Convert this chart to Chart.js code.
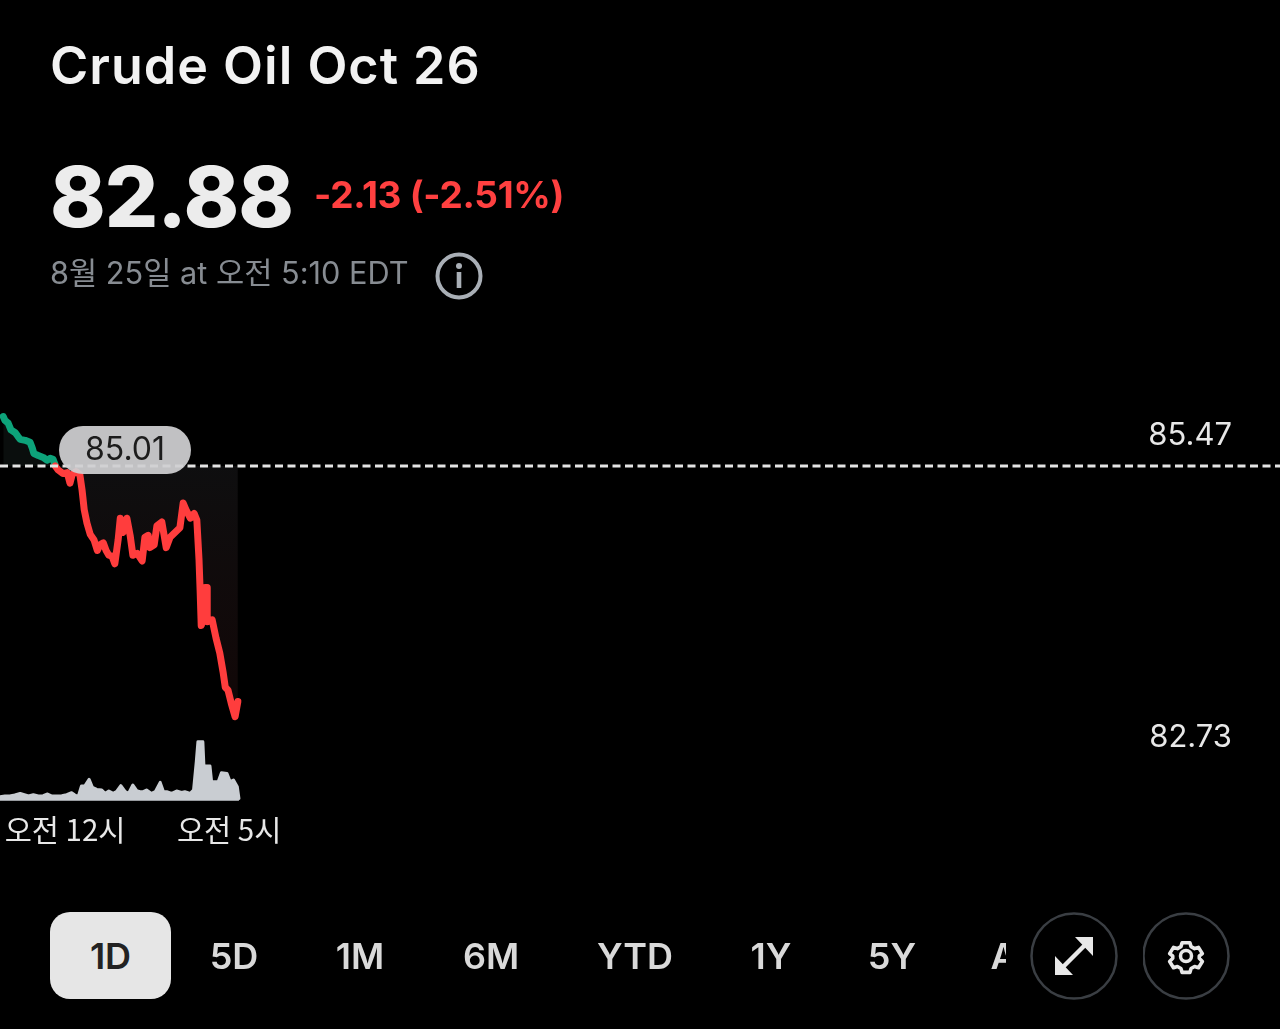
<!DOCTYPE html>
<html lang="ko">
<head>
<meta charset="utf-8">
<title>Crude Oil Oct 26</title>
<script src="https://cdn.jsdelivr.net/npm/chart.js@4"></script>
<style>
html,body{margin:0;padding:0;background:#000;width:1280px;height:1029px;overflow:hidden;font-family:Inter,"Noto Sans CJK KR",sans-serif}
#wrap{position:absolute;left:0;top:0;width:1280px;height:1029px}
.t{position:absolute;white-space:nowrap;line-height:1}
#title{left:50px;top:40px;font-size:52px;font-weight:600;color:#f2f2f2;letter-spacing:1px}
#price{left:50px;top:155px;font-size:84px;font-weight:800;color:#ececec;letter-spacing:-1px}
#chg{left:314px;top:176px;font-size:37px;font-weight:700;color:#ff4040;letter-spacing:-.3px}
#date{left:50px;top:258px;font-size:30.7px;color:#878c92}
#pill{position:absolute;left:59px;top:426px;width:132px;height:48px;border-radius:24px;background:rgba(208,208,210,.93);color:#1c1c1c;font-size:32px;display:flex;align-items:center;justify-content:center;padding-bottom:4px;box-sizing:border-box}
#tabs{position:absolute;left:0;top:912px;width:1006px;height:87px;overflow:hidden}
.tab{position:absolute;top:0;height:87px;display:flex;align-items:center;justify-content:center;transform:translateX(-50%);font-size:36px;font-weight:600;color:#d9d9d9}
#on{position:absolute;left:50px;top:0;width:121px;height:87px;border-radius:20px;background:#e6e6e6;color:#222;display:flex;align-items:center;justify-content:center;font-size:36px;font-weight:600}
svg.i{position:absolute}
</style>
</head>
<body>
<div id="wrap"><canvas id="c" width="1280" height="1029"></canvas></div>
<div class="t" id="title">Crude Oil Oct 26</div>
<div class="t" id="price">82.88</div>
<div class="t" id="chg">-2.13 (-2.51%)</div>
<div class="t" id="date">8월 25일 at 오전 5:10 EDT</div>
<svg class="i" style="left:434px;top:251px" width="50" height="50" viewBox="0 0 50 50"><circle cx="25" cy="25" r="21.5" fill="none" stroke="#a9afb6" stroke-width="4"/><circle cx="25" cy="15" r="3" fill="#a9afb6"/><rect x="22.7" y="21" width="4.6" height="16" fill="#a9afb6"/></svg>
<div id="pill">85.01</div>
<div id="tabs">
  <div id="on">1D</div>
  <div class="tab" style="left:234px">5D</div>
  <div class="tab" style="left:360px">1M</div>
  <div class="tab" style="left:491px">6M</div>
  <div class="tab" style="left:635px">YTD</div>
  <div class="tab" style="left:771px">1Y</div>
  <div class="tab" style="left:892px">5Y</div>
  <div class="tab" style="left:1024px">ALL</div>
</div>
<svg class="i" style="left:1030px;top:912px" width="88" height="88" viewBox="0 0 88 88"><circle cx="44" cy="44" r="42.5" fill="none" stroke="#3a3e43" stroke-width="2.5"/><path d="M29 59 L59 29" stroke="#e8e8e8" stroke-width="4.5"/><path d="M63 25 V44 L45 25Z M25 63 V44 L43 63Z" fill="#e8e8e8"/></svg>
<svg class="i" style="left:1143px;top:912px" width="88" height="88" viewBox="0 0 88 88"><circle cx="43" cy="44" r="42.5" fill="none" stroke="#3a3e43" stroke-width="2.5"/><circle cx="43" cy="44" r="5.5" fill="none" stroke="#e8e8e8" stroke-width="3.5"/><g transform="translate(43 44) scale(.78) translate(-43 -44)"><path d="M38 27 H48 L49.5 32 L54 34.5 L59 33 L64 41 L60 44 L60 47 L64 51 L59 59 L54 57.5 L49.5 60 L48 65 H38 L36.5 60 L32 57.5 L27 59 L22 51 L26 47 L26 44 L22 41 L27 33 L32 34.5 L36.5 32 Z" fill="none" stroke="#e8e8e8" stroke-width="4.6" stroke-linejoin="round"/></g></svg>
<script>
const previousClose = 85.47;
const dashTimes = [-119, 2222];
const greenTimes = [-113,-110,-104,-99,-91,-86,-82,-73,-64,-60,-57,-49,-40,-33,-27,-22,-18];
const greenPrices = [85.99,85.95,85.92,85.85,85.82,85.78,85.75,85.74,85.72,85.66,85.60,85.58,85.56,85.53,85.55,85.54,85.48];
const redTimes = [-18,-13,-4,4,9,13,20,27,31,35,40,46,53,59,64,70,75,80,86,91,97,101,106,113,119,124,132,141,146,152,155,163,168,177,185,192,201,210,216,221,229,236,241,245,247,249,252,256,260,260,269,276,283,289,293,298,304,311,316];
const redPrices = [85.47,85.43,85.39,85.40,85.29,85.38,85.41,85.38,85.22,85.01,84.87,84.75,84.69,84.58,84.64,84.66,84.58,84.53,84.52,84.44,84.69,84.92,84.77,84.92,84.74,84.53,84.55,84.47,84.72,84.74,84.61,84.64,84.84,84.88,84.61,84.72,84.77,84.82,85.08,85.01,84.92,84.97,84.90,84.48,84.16,83.79,83.85,84.19,84.19,83.83,83.85,83.66,83.50,83.30,83.14,83.11,82.97,82.83,82.99];
const volumeTimes = [-119,-110,-101,-92,-82,-76,-67,-58,-49,-40,-32,-24,-15,-6,3,12,18,24,30,36,44,50,58,67,73,80,88,94,102,110,116,124,131,137,143,149,158,165,174,180,186,195,204,213,219,229,235,240,243,252,254,258,265,268,280,286,296,302,308,315,318];
const volumeValues = [40,47,47,57,73,63,47,60,47,50,67,47,47,50,60,80,57,40,147,147,213,133,113,107,73,97,73,90,150,90,73,157,100,90,90,107,73,90,183,90,90,73,97,83,90,73,107,390,590,590,340,347,347,190,190,280,273,190,207,140,23];
const timeTicks = [0, 300];
const timeLabels = ['오전 12시', '오전 5시'];
const priceTicks = [85.47, 82.73];

const zip = (xs, ys) => xs.map((x, i) => ({x, y: ys[i]}));
const noPad = s => { s.paddingLeft = s.paddingRight = s.paddingTop = s.paddingBottom = 0; };
const fillGrad = ctx => {
  const g = ctx.chart.ctx.createLinearGradient(0, 466, 0, 712);
  g.addColorStop(0, 'rgba(24,24,26,.6)');
  g.addColorStop(1, 'rgba(38,16,16,.45)');
  return g;
};
new Chart(document.getElementById('c'), {
  type: 'line',
  data: {datasets: [
    {data: zip(volumeTimes, volumeValues), yAxisID: 'yv', borderColor: '#c9cdd2', backgroundColor: '#c9cdd2', borderWidth: 3, fill: 'origin', pointRadius: 0, borderJoinStyle: 'round', borderCapStyle: 'round', order: 5},
    {data: zip(greenTimes, greenPrices), yAxisID: 'y', borderColor: '#0da37a', backgroundColor: 'rgba(20,28,26,.5)', borderWidth: 7, fill: {value: previousClose}, pointRadius: 0, borderJoinStyle: 'round', borderCapStyle: 'round', order: 3},
    {data: zip(redTimes, redPrices), yAxisID: 'y', borderColor: '#ff3d3d', backgroundColor: fillGrad, borderWidth: 7, fill: {value: previousClose}, pointRadius: 0, borderJoinStyle: 'round', borderCapStyle: 'round', order: 2},
    {data: dashTimes.map(x => ({x, y: previousClose})), yAxisID: 'y', borderColor: '#e4e4e4', borderWidth: 3, borderDash: [8, 4.5], fill: false, pointRadius: 0, order: 1}
  ]},
  options: {
    responsive: false, animation: false, devicePixelRatio: 1,
    layout: {padding: 0},
    plugins: {legend: {display: false}, tooltip: {enabled: false}},
    events: [],
    scales: {
      x: {
        type: 'linear', min: -119, max: 2222,
        grid: {display: false}, border: {display: false},
        afterFit: s => { s.height = 227; noPad(s); },
        afterBuildTicks: s => { s.ticks = timeTicks.map(value => ({value})); },
        ticks: {
          autoSkip: false, maxRotation: 0, padding: 2, color: '#e8e8e8',
          font: {family: '"Noto Sans CJK KR"', size: 29.5},
          callback: v => timeLabels[timeTicks.indexOf(v)]
        }
      },
      y: {display: false, min: 81.932, max: 90.376},
      yv: {display: false, min: -13, max: 8007},
      yp: {
        position: 'right', min: 82.149, max: 89.426,
        grid: {display: false}, border: {display: false},
        afterFit: s => { s.width = 0; noPad(s); },
        afterBuildTicks: s => { s.ticks = priceTicks.map(value => ({value})); },
        ticks: {
          mirror: true, autoSkip: false, padding: -48, drawTicks: false, color: '#e8e8e8',
          font: {family: 'Inter', size: 31},
          callback: v => v.toFixed(2)
        }
      }
    }
  }
});
</script>
</body>
</html>
